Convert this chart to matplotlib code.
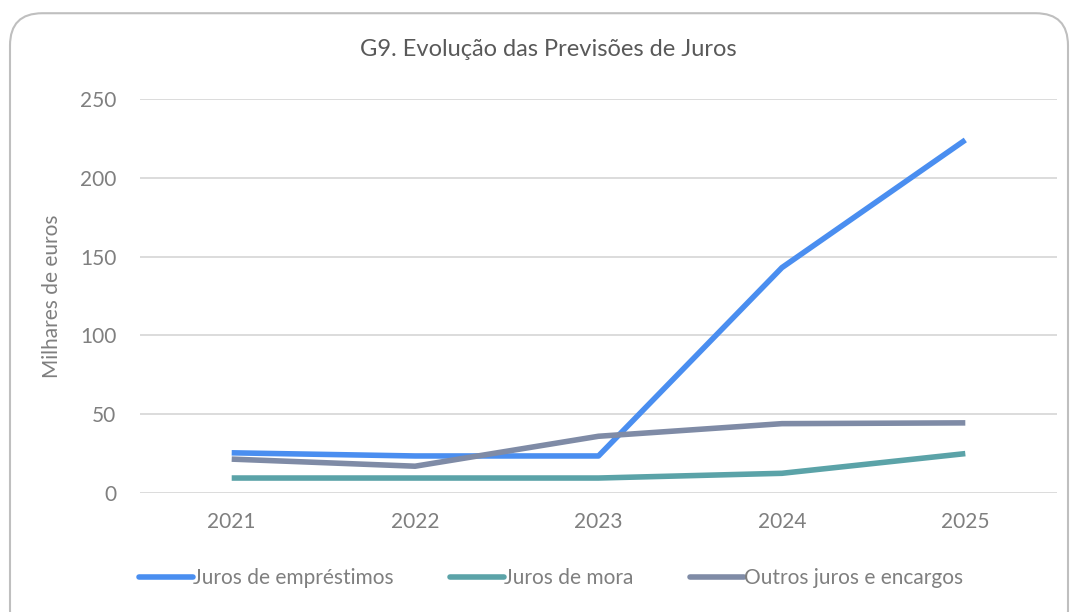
import matplotlib
matplotlib.use("Agg")
import matplotlib.pyplot as plt
from matplotlib.patches import FancyBboxPatch
from matplotlib.lines import Line2D

years = ["2021", "2022", "2023", "2024", "2025"]
juros_emprestimos = [25.5, 23.5, 23.5, 143, 224]
juros_mora = [9.5, 9.5, 9.5, 12.5, 25]
outros_juros = [21.5, 17, 36, 44, 44.5]
series_names = ["Juros de empréstimos", "Juros de mora", "Outros juros e encargos"]
colors = ["#4a8ef0", "#5ba3a8", "#7f8ba6"]
yticks = [0, 50, 100, 150, 200, 250]

plt.rcParams['font.family'] = ['Lato', 'DejaVu Sans']
text_color = "#7f7f7f"

fig = plt.figure(figsize=(10.75, 6.12), dpi=100)
fig.patch.set_facecolor("white")

# outer rounded border
border = FancyBboxPatch((10 / 1075, -0.05), 1058 / 1075, (612 - 12) / 612 + 0.05 - 0.002,
                        boxstyle="round,pad=0,rounding_size=0.03",
                        transform=fig.transFigure, facecolor="white",
                        edgecolor="#bfbfbf", linewidth=1.5, mutation_aspect=1075 / 612,
                        zorder=-10)
fig.patches.append(border)

ax = fig.add_axes([140 / 1075, 1 - 493 / 612, (1057 - 140) / 1075, (493 - 99) / 612])
ax.set_zorder(1)
ax.set_facecolor("none")
x = list(range(len(years)))
for vals, name, c in zip([juros_emprestimos, juros_mora, outros_juros], series_names, colors):
    ax.plot(x, vals, color=c, linewidth=4.0, solid_capstyle="butt", solid_joinstyle="round", label=name, zorder=3)

ax.set_xlim(-0.5, len(years) - 0.5)
ax.set_ylim(0, 250)
ax.set_yticks(yticks)
ax.set_xticks(x)
ax.set_xticklabels(years)
ax.grid(axis="y", color="#d9d9d9", linewidth=1.3, zorder=0)
ax.set_axisbelow(True)
for s in ax.spines.values():
    s.set_visible(False)
ax.tick_params(axis="both", length=0, labelsize=15, colors=text_color)
ax.tick_params(axis="y", pad=17)
ax.tick_params(axis="x", pad=14)
ax.set_ylabel("Milhares de euros", fontsize=15, color=text_color)
ax.yaxis.set_label_coords((62 - 140) / 917, 0.5)

fig.text(548 / 1075, 1 - 50 / 612, "G9. Evolução das Previsões de Juros", ha="center", va="center",
         fontsize=17, color="#595959")

handles = [Line2D([0], [0], color=c, linewidth=4.0, solid_capstyle="round") for c in colors]
fig.legend(handles, series_names, loc="center", bbox_to_anchor=(551 / 1075, 1 - 578 / 612),
           ncol=3, frameon=False, fontsize=15, labelcolor=text_color,
           handlelength=2.6, handletextpad=0.0, columnspacing=2.7)

fig.savefig("out.png", dpi=100)
